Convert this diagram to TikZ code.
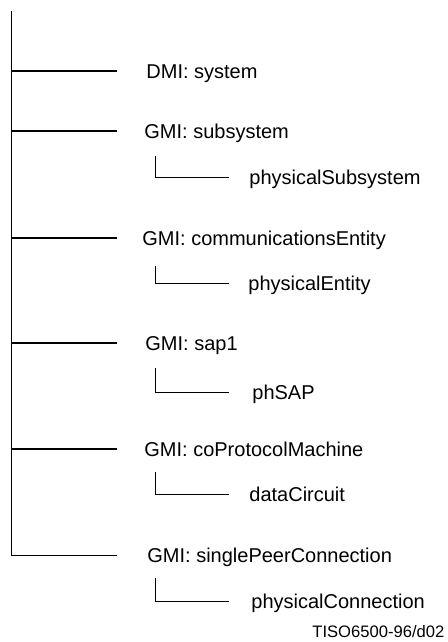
\documentclass[tikz,border=0pt]{standalone}
\usepackage{fontspec}
\setmainfont{Liberation Sans}

\begin{document}
\begin{tikzpicture}[x=0.5pt, y=-0.5pt,
  rama/.style={line width=1pt},
  fina/.style={line width=0.5pt},
  etiq/.style={anchor=west, inner sep=0pt, text height=7.16pt, text depth=0pt,
    font=\fontsize{10}{12}\selectfont}]
  \useasboundingbox (0,0) rectangle (448,642);

  % Tronco
  \coordinate (t0) at (11,11);
  \coordinate (t6) at (11,555);
  \draw[fina] (t0) -- (t6);

  % Ramas
  \coordinate (t1) at (11,71);  \coordinate (r1) at (117,71);
  \coordinate (t2) at (11,131); \coordinate (r2) at (117,131);
  \coordinate (t3) at (11,238); \coordinate (r3) at (117,238);
  \coordinate (t4) at (11,343); \coordinate (r4) at (117,343);
  \coordinate (t5) at (11,449); \coordinate (r5) at (117,449);
  \coordinate (r6) at (117,555);
  \draw[rama] (t1) -- (r1);
  \draw[rama] (t2) -- (r2);
  \draw[rama] (t3) -- (r3);
  \draw[rama] (t4) -- (r4);
  \draw[rama] (t5) -- (r5);
  \draw[fina] (t6) -- (r6);

  % Clases
  \node[etiq] (system) at (146,71) {DMI: system};
  \node[etiq] (subsystem) at (144,131) {GMI: subsystem};
  \node[etiq] (commEntity) at (142,238) {GMI: communicationsEntity};
  \node[etiq] (sap) at (145,343) {GMI: sap1};
  \node[etiq] (coProtocol) at (144,449) {GMI: coProtocolMachine};
  \node[etiq] (singlePeer) at (147,555) {GMI: singlePeerConnection};

  % Subclases
  \coordinate (a2) at (155,156); \coordinate (b2) at (229,177);
  \coordinate (a3) at (155,266); \coordinate (b3) at (229,283);
  \coordinate (a4) at (155,368); \coordinate (b4) at (229,392);
  \coordinate (a5) at (155,472); \coordinate (b5) at (229,494);
  \coordinate (a6) at (155,578); \coordinate (b6) at (229,601);
  \draw[fina] (a2) |- (b2);
  \draw[fina] (a3) |- (b3);
  \draw[fina] (a4) |- (b4);
  \draw[fina] (a5) |- (b5);
  \draw[fina] (a6) |- (b6);
  \node[etiq] (physSubsystem) at (249,177) {physicalSubsystem};
  \node[etiq] (physEntity) at (248,283) {physicalEntity};
  \node[etiq] (phSAP) at (252,392) {phSAP};
  \node[etiq] (dataCircuit) at (249,494) {dataCircuit};
  \node[etiq] (physConnection) at (251,601) {physicalConnection};

  % Referencia
  \node[anchor=west, inner sep=0pt, text height=5.9pt, text depth=0pt,
    font=\fontsize{8.3}{10}\selectfont] (ref) at (312,632) {TISO6500-96/d02};
\end{tikzpicture}
\end{document}
